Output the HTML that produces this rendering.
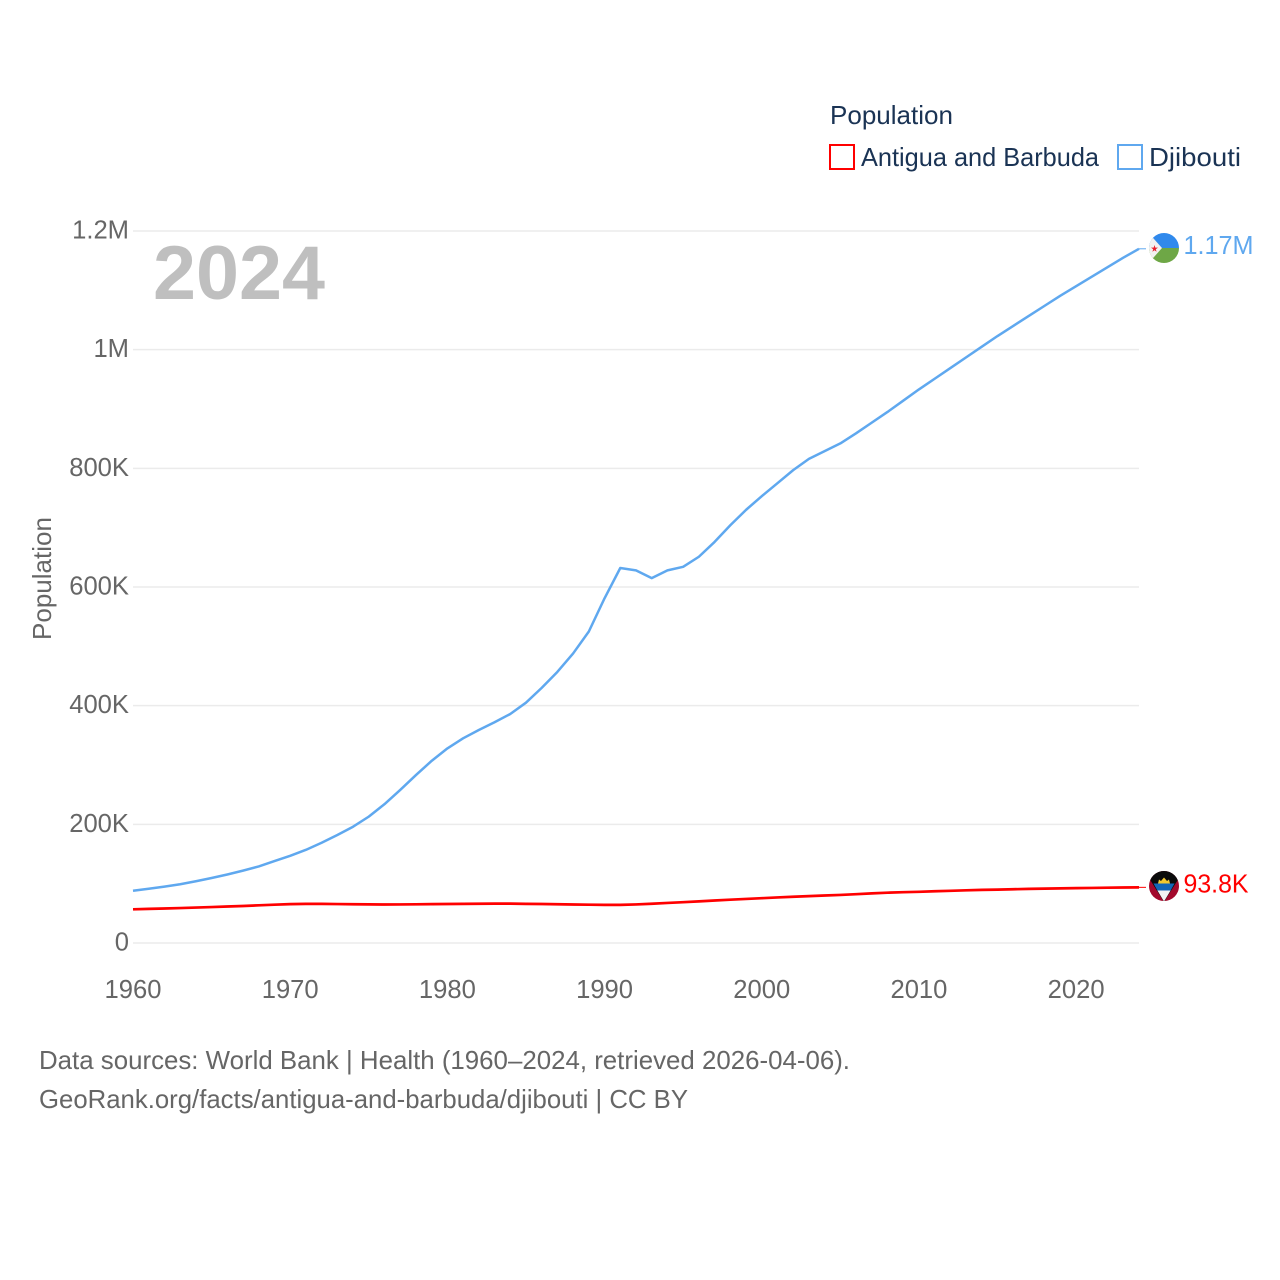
<!DOCTYPE html>
<html lang="en">
<head>
<meta charset="utf-8">
<title>Population: Antigua and Barbuda vs Djibouti</title>
<style>
html,body{margin:0;padding:0;background:#fff;width:1280px;height:1280px;overflow:hidden}
svg{display:block}
text{font-family:"Liberation Sans",sans-serif}
</style>
</head>
<body>
<svg id="chart" xmlns="http://www.w3.org/2000/svg" width="1280" height="1280" viewBox="0 0 1280 1280">
  <rect width="1280" height="1280" fill="#fff"/>
  <g id="grid"></g>
  <g id="yticks"></g>
  <g id="xticks"></g>
  <text transform="translate(51,640) rotate(-90)" font-size="25.6" fill="#666" textLength="123" lengthAdjust="spacingAndGlyphs">Population</text>
  <text x="153" y="299" font-size="76" font-weight="700" fill="#bfbfbf" textLength="172" lengthAdjust="spacingAndGlyphs">2024</text>

  <g id="series"></g>

  <g>
    <text x="830" y="124" font-size="26" fill="#1a3354" textLength="123" lengthAdjust="spacingAndGlyphs">Population</text>
    <rect x="830" y="145" width="24" height="24" fill="#fff" stroke="#ff0000" stroke-width="2"/>
    <text x="861" y="166" font-size="26" fill="#1a3354" textLength="238" lengthAdjust="spacingAndGlyphs">Antigua and Barbuda</text>
    <rect x="1118" y="145" width="24" height="24" fill="#fff" stroke="#5fa8ef" stroke-width="2"/>
    <text x="1149" y="166" font-size="26" fill="#1a3354" textLength="92" lengthAdjust="spacingAndGlyphs">Djibouti</text>
  </g>

  <defs>
    <clipPath id="clipDj"><circle cx="1164" cy="248" r="15"/></clipPath>
    <clipPath id="clipAg"><circle cx="1164" cy="886" r="15"/></clipPath>
  </defs>

  <g clip-path="url(#clipDj)">
    <rect x="1149" y="233" width="30" height="15" fill="#3089ec"/>
    <rect x="1149" y="248" width="30" height="15" fill="#6ea746"/>
    <polygon points="1146,230 1162,248 1146,266" fill="#f1f1f1"/>
    <polygon points="1154.5,245 1155.3,247.6 1158,247.6 1155.8,249.2 1156.6,251.8 1154.5,250.2 1152.4,251.8 1153.2,249.2 1151,247.6 1153.7,247.6" fill="#e8202e"/>
  </g>
  <text x="1183.5" y="254" font-size="25.6" fill="#5fa8ef" textLength="70" lengthAdjust="spacingAndGlyphs">1.17M</text>

  <g clip-path="url(#clipAg)">
    <rect x="1149" y="871" width="30" height="30" fill="#a3092c"/>
    <polygon points="1149,871 1179,871 1179,878 1164,902 1149,878" fill="#0b0b0b"/>
    <polygon points="1158,883.5 1159,879.5 1161,881 1164,877.5 1167,881 1169,879.5 1170,883.5" fill="#f4c92e"/>
    <polygon points="1153.5,883.5 1174.5,883.5 1170.6,890.5 1157.4,890.5" fill="#1467b8"/>
    <polygon points="1157.4,890.5 1170.6,890.5 1164,901.5" fill="#f2f2f2"/>
  </g>
  <text x="1183.5" y="892.5" font-size="25.6" fill="#ff0000" textLength="65" lengthAdjust="spacingAndGlyphs">93.8K</text>

  <text x="39" y="1069" font-size="25.6" fill="#666" textLength="811" lengthAdjust="spacingAndGlyphs">Data sources: World Bank | Health (1960–2024, retrieved 2026-04-06).</text>
  <text x="39" y="1108" font-size="25.6" fill="#666" textLength="649" lengthAdjust="spacingAndGlyphs">GeoRank.org/facts/antigua-and-barbuda/djibouti | CC BY</text>
</svg>
<script>
const firstYear = 1960;
const yTickValues = [0, 200, 400, 600, 800, 1000, 1200];
const yTickLabels = ["0", "200K", "400K", "600K", "800K", "1M", "1.2M"];
const xTickValues = [1960, 1970, 1980, 1990, 2000, 2010, 2020];
const djiboutiValues = [88, 91.5, 95, 99, 104, 109.5, 115.5, 122, 129, 138, 147, 157, 169, 182, 196, 213, 234, 258, 283, 307, 328, 345, 359, 372, 386, 405, 430, 457, 488, 525, 581, 632, 628, 615, 628, 634, 651, 676, 704, 730, 753, 775, 797, 816, 829, 842, 859, 877, 895, 914, 933, 951, 969, 987, 1005, 1023, 1040, 1057, 1074, 1091, 1107, 1123, 1139, 1155, 1170];
const antiguaValues = [56.8, 57.5, 58.2, 58.9, 59.7, 60.6, 61.5, 62.4, 63.5, 64.6, 65.5, 65.9, 65.9, 65.6, 65.3, 65.1, 64.9, 65, 65.2, 65.5, 65.7, 66, 66.2, 66.3, 66.3, 66, 65.7, 65.3, 64.9, 64.6, 64.3, 64.2, 65, 66.2, 67.5, 68.8, 70.2, 71.6, 73, 74.3, 75.5, 76.8, 78, 79, 80, 81, 82.3, 83.7, 84.8, 85.6, 86.3, 87.2, 88, 88.8, 89.5, 90, 90.6, 91.2, 91.7, 92.1, 92.5, 92.8, 93.2, 93.5, 93.8];

const NS = 'http://www.w3.org/2000/svg';
function xScale(year) { return 133 + (year - 1960) * (1139 - 133) / 64; }
function yScale(v) { return 943 - v * (943 - 231) / 1200; }

const grid = document.getElementById('grid');
const yticks = document.getElementById('yticks');
const xticks = document.getElementById('xticks');
const series = document.getElementById('series');

yTickValues.forEach(function (v, i) {
  const line = document.createElementNS(NS, 'line');
  
  
  line.setAttribute('x1', 133);
  line.setAttribute('x2', 1139);
  line.setAttribute('y1', yScale(v));
  line.setAttribute('y2', yScale(v));
  line.setAttribute('stroke', '#ebebeb');
  line.setAttribute('stroke-width', '1.5');
  grid.appendChild(line);

  const t = document.createElementNS(NS, 'text');
  
  
  t.setAttribute('x', 129);
  t.setAttribute('y', yScale(v) + 7.5);
  t.setAttribute('text-anchor', 'end');
  t.setAttribute('font-size', '25.6');
  t.setAttribute('fill', '#666');
  t.textContent = yTickLabels[i];
  yticks.appendChild(t);
});

xTickValues.forEach(function (year) {
  const t = document.createElementNS(NS, 'text');
  
  
  t.setAttribute('x', xScale(year));
  t.setAttribute('y', 998);
  t.setAttribute('text-anchor', 'middle');
  t.setAttribute('font-size', '25.6');
  t.setAttribute('fill', '#666');
  t.textContent = String(year);
  xticks.appendChild(t);
});

function toPoints(values) {
  return values.map(function (v, i) {
    return xScale(firstYear + i).toFixed(2) + ',' + yScale(v).toFixed(2);
  }).join(' ');
}

const djiboutiLine = document.createElementNS(NS, 'polyline');


djiboutiLine.setAttribute('points', toPoints(djiboutiValues));
djiboutiLine.setAttribute('fill', 'none');
djiboutiLine.setAttribute('stroke', '#5fa8ef');
djiboutiLine.setAttribute('stroke-width', '2.5');
djiboutiLine.setAttribute('stroke-linejoin', 'round');
series.appendChild(djiboutiLine);

const antiguaLine = document.createElementNS(NS, 'polyline');


antiguaLine.setAttribute('points', toPoints(antiguaValues));
antiguaLine.setAttribute('fill', 'none');
antiguaLine.setAttribute('stroke', '#ff0000');
antiguaLine.setAttribute('stroke-width', '2.7');
antiguaLine.setAttribute('stroke-linejoin', 'round');
series.appendChild(antiguaLine);

const djiboutiConnector = document.createElementNS(NS, 'line');


djiboutiConnector.setAttribute('x1', xScale(2024));
djiboutiConnector.setAttribute('x2', 1146);
djiboutiConnector.setAttribute('y1', yScale(djiboutiValues[djiboutiValues.length - 1]));
djiboutiConnector.setAttribute('y2', yScale(djiboutiValues[djiboutiValues.length - 1]));
djiboutiConnector.setAttribute('stroke', '#5fa8ef');
djiboutiConnector.setAttribute('stroke-width', '1');
series.appendChild(djiboutiConnector);

const antiguaConnector = document.createElementNS(NS, 'line');


antiguaConnector.setAttribute('x1', xScale(2024));
antiguaConnector.setAttribute('x2', 1146);
antiguaConnector.setAttribute('y1', yScale(antiguaValues[antiguaValues.length - 1]));
antiguaConnector.setAttribute('y2', yScale(antiguaValues[antiguaValues.length - 1]));
antiguaConnector.setAttribute('stroke', '#ff0000');
antiguaConnector.setAttribute('stroke-width', '1');
series.appendChild(antiguaConnector);
</script>
</body>
</html>
